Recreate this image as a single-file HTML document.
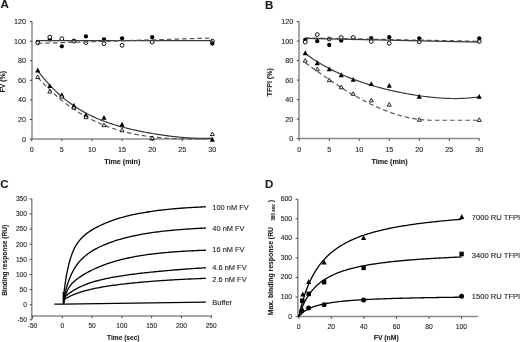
<!DOCTYPE html><html><head><meta charset="utf-8"><style>html,body{margin:0;padding:0;background:#fff;}svg{display:block;will-change:transform;}text{font-family:"Liberation Sans", sans-serif;fill:#1a1a1a;stroke:#1a1a1a;stroke-width:0.1px;}</style></head><body>
<svg width="520" height="342" viewBox="0 0 520 342">
<rect width="520" height="342" fill="#fff"/>
<text x="0.4" y="8.4" font-size="11.5" text-anchor="start" font-weight="bold" >A</text>
<line x1="32" y1="21.6" x2="32" y2="139" stroke="#8a8a8a" stroke-width="1.5" />
<line x1="29.8" y1="139" x2="32" y2="139" stroke="#333" stroke-width="0.9" />
<text x="26.1" y="141.5" font-size="7.2" text-anchor="end" font-weight="normal" >0</text>
<line x1="29.8" y1="119.44" x2="32" y2="119.44" stroke="#333" stroke-width="0.9" />
<text x="26.1" y="121.94" font-size="7.2" text-anchor="end" font-weight="normal" >20</text>
<line x1="29.8" y1="99.88" x2="32" y2="99.88" stroke="#333" stroke-width="0.9" />
<text x="26.1" y="102.38" font-size="7.2" text-anchor="end" font-weight="normal" >40</text>
<line x1="29.8" y1="80.32" x2="32" y2="80.32" stroke="#333" stroke-width="0.9" />
<text x="26.1" y="82.82" font-size="7.2" text-anchor="end" font-weight="normal" >60</text>
<line x1="29.8" y1="60.76" x2="32" y2="60.76" stroke="#333" stroke-width="0.9" />
<text x="26.1" y="63.26" font-size="7.2" text-anchor="end" font-weight="normal" >80</text>
<line x1="29.8" y1="41.2" x2="32" y2="41.2" stroke="#333" stroke-width="0.9" />
<text x="26.1" y="43.7" font-size="7.2" text-anchor="end" font-weight="normal" >100</text>
<line x1="29.8" y1="21.64" x2="32" y2="21.64" stroke="#333" stroke-width="0.9" />
<text x="26.1" y="24.14" font-size="7.2" text-anchor="end" font-weight="normal" >120</text>
<line x1="32" y1="139" x2="212.6" y2="139" stroke="#8a8a8a" stroke-width="1.5" />
<line x1="31.75" y1="139" x2="31.75" y2="141.2" stroke="#333" stroke-width="0.9" />
<text x="31.75" y="152.3" font-size="7.2" text-anchor="middle" font-weight="normal" >0</text>
<line x1="61.85" y1="139" x2="61.85" y2="141.2" stroke="#333" stroke-width="0.9" />
<text x="61.85" y="152.3" font-size="7.2" text-anchor="middle" font-weight="normal" >5</text>
<line x1="91.95" y1="139" x2="91.95" y2="141.2" stroke="#333" stroke-width="0.9" />
<text x="91.95" y="152.3" font-size="7.2" text-anchor="middle" font-weight="normal" >10</text>
<line x1="122.05" y1="139" x2="122.05" y2="141.2" stroke="#333" stroke-width="0.9" />
<text x="122.05" y="152.3" font-size="7.2" text-anchor="middle" font-weight="normal" >15</text>
<line x1="152.15" y1="139" x2="152.15" y2="141.2" stroke="#333" stroke-width="0.9" />
<text x="152.15" y="152.3" font-size="7.2" text-anchor="middle" font-weight="normal" >20</text>
<line x1="182.25" y1="139" x2="182.25" y2="141.2" stroke="#333" stroke-width="0.9" />
<text x="182.25" y="152.3" font-size="7.2" text-anchor="middle" font-weight="normal" >25</text>
<line x1="212.35" y1="139" x2="212.35" y2="141.2" stroke="#333" stroke-width="0.9" />
<text x="212.35" y="152.3" font-size="7.2" text-anchor="middle" font-weight="normal" >30</text>
<text x="122.3" y="164.2" font-size="7.2" text-anchor="middle" font-weight="bold" >Time (min)</text>
<text x="0" y="0" font-size="6.9" text-anchor="middle" font-weight="bold" transform="translate(5.3 81.75) rotate(-90)">FV (%)</text>
<path d="M37.77 77.45 L39.53 79.39 L41.3 81.28 L43.06 83.13 L44.82 84.94 L46.59 86.71 L48.35 88.44 L50.11 90.13 L51.88 91.78 L53.64 93.39 L55.4 94.96 L57.17 96.5 L58.93 98 L60.69 99.46 L62.46 100.88 L64.22 102.27 L65.98 103.62 L67.75 104.94 L69.51 106.22 L71.28 107.47 L73.04 108.69 L74.8 109.87 L76.57 111.03 L78.33 112.15 L80.09 113.24 L81.86 114.3 L83.62 115.33 L85.38 116.32 L87.15 117.29 L88.91 118.24 L90.67 119.15 L92.44 120.03 L94.2 120.89 L95.96 121.72 L97.73 122.53 L99.49 123.31 L101.25 124.06 L103.02 124.79 L104.78 125.5 L106.54 126.18 L108.31 126.83 L110.07 127.47 L111.83 128.08 L113.6 128.67 L115.36 129.24 L117.12 129.78 L118.89 130.31 L120.65 130.81 L122.41 131.3 L124.18 131.76 L125.94 132.21 L127.71 132.64 L129.47 133.05 L131.23 133.44 L133 133.81 L134.76 134.17 L136.52 134.51 L138.29 134.83 L140.05 135.14 L141.81 135.43 L143.58 135.71 L145.34 135.97 L147.1 136.22 L148.87 136.46 L150.63 136.68 L152.39 136.89 L154.16 137.08 L155.92 137.27 L157.68 137.44 L159.45 137.6 L161.21 137.74 L162.97 137.88 L164.74 138.01 L166.5 138.13 L168.26 138.23 L170.03 138.33 L171.79 138.42 L173.55 138.5 L175.32 138.57 L177.08 138.63 L178.84 138.68 L180.61 138.73 L182.37 138.77 L184.14 138.81 L185.9 138.83 L187.66 138.85 L189.43 138.87 L191.19 138.88 L192.95 138.88 L194.72 138.88 L196.48 138.88 L198.24 138.87 L200.01 138.85 L201.77 138.84 L203.53 138.82 L205.3 138.79 L207.06 138.76 L208.82 138.74 L210.59 138.7 L212.35 138.67" stroke="#555" stroke-width="1.2" fill="none" stroke-dasharray="4.6 3"/>
<path d="M37.77 70.81 L39.53 73.13 L41.3 75.37 L43.06 77.54 L44.82 79.65 L46.59 81.69 L48.35 83.66 L50.11 85.57 L51.88 87.41 L53.64 89.2 L55.4 90.92 L57.17 92.59 L58.93 94.21 L60.69 95.77 L62.46 97.28 L64.22 98.74 L65.98 100.15 L67.75 101.51 L69.51 102.82 L71.28 104.1 L73.04 105.32 L74.8 106.51 L76.57 107.66 L78.33 108.76 L80.09 109.83 L81.86 110.86 L83.62 111.86 L85.38 112.83 L87.15 113.76 L88.91 114.66 L90.67 115.52 L92.44 116.36 L94.2 117.17 L95.96 117.96 L97.73 118.71 L99.49 119.45 L101.25 120.15 L103.02 120.84 L104.78 121.5 L106.54 122.14 L108.31 122.76 L110.07 123.36 L111.83 123.94 L113.6 124.5 L115.36 125.05 L117.12 125.58 L118.89 126.09 L120.65 126.59 L122.41 127.07 L124.18 127.54 L125.94 127.99 L127.71 128.43 L129.47 128.86 L131.23 129.28 L133 129.69 L134.76 130.08 L136.52 130.46 L138.29 130.84 L140.05 131.2 L141.81 131.55 L143.58 131.9 L145.34 132.23 L147.1 132.56 L148.87 132.88 L150.63 133.19 L152.39 133.49 L154.16 133.78 L155.92 134.07 L157.68 134.35 L159.45 134.62 L161.21 134.88 L162.97 135.13 L164.74 135.38 L166.5 135.62 L168.26 135.85 L170.03 136.07 L171.79 136.29 L173.55 136.49 L175.32 136.69 L177.08 136.88 L178.84 137.06 L180.61 137.23 L182.37 137.39 L184.14 137.54 L185.9 137.68 L187.66 137.8 L189.43 137.92 L191.19 138.03 L192.95 138.12 L194.72 138.2 L196.48 138.27 L198.24 138.32 L200.01 138.36 L201.77 138.39 L203.53 138.4 L205.3 138.39 L207.06 138.37 L208.82 138.32 L210.59 138.26 L212.35 138.19" stroke="#3a3a3a" stroke-width="1.2" fill="none"/>
<circle cx="37.77" cy="41.9" r="2.15" fill="#000"/>
<circle cx="37.77" cy="42.8" r="1.92" fill="#fff" stroke="#000" stroke-width="0.95"/>
<circle cx="49.81" cy="39.4" r="2.15" fill="#000"/>
<circle cx="49.81" cy="37.2" r="1.92" fill="#fff" stroke="#000" stroke-width="0.95"/>
<circle cx="61.85" cy="46.3" r="2.15" fill="#000"/>
<circle cx="61.85" cy="38.7" r="1.92" fill="#fff" stroke="#000" stroke-width="0.95"/>
<circle cx="73.89" cy="41" r="2.15" fill="#000"/>
<circle cx="73.89" cy="41.1" r="1.92" fill="#fff" stroke="#000" stroke-width="0.95"/>
<circle cx="85.93" cy="36.4" r="2.15" fill="#000"/>
<circle cx="85.93" cy="42.6" r="1.92" fill="#fff" stroke="#000" stroke-width="0.95"/>
<circle cx="103.99" cy="39.5" r="2.15" fill="#000"/>
<circle cx="103.99" cy="43.7" r="1.92" fill="#fff" stroke="#000" stroke-width="0.95"/>
<circle cx="122.05" cy="38.3" r="2.15" fill="#000"/>
<circle cx="122.05" cy="45.3" r="1.92" fill="#fff" stroke="#000" stroke-width="0.95"/>
<circle cx="152.15" cy="42" r="1.92" fill="#fff" stroke="#000" stroke-width="0.95"/>
<circle cx="152.15" cy="37.2" r="2.15" fill="#000"/>
<circle cx="212.35" cy="41.2" r="1.92" fill="#fff" stroke="#000" stroke-width="0.95"/>
<circle cx="212.35" cy="43.5" r="2.15" fill="#000"/>
<path d="M37.77 67.55L40.32 72.45L35.22 72.45Z" fill="#000"/>
<path d="M37.77 75L39.77 78.56L35.76 78.56Z" fill="#fff" stroke="#000" stroke-width="0.85"/>
<path d="M49.81 83.15L52.36 88.05L47.26 88.05Z" fill="#000"/>
<path d="M49.81 89.5L51.82 93.06L47.8 93.06Z" fill="#fff" stroke="#000" stroke-width="0.85"/>
<path d="M61.85 92.15L64.4 97.05L59.3 97.05Z" fill="#000"/>
<path d="M61.85 94.5L63.85 98.06L59.84 98.06Z" fill="#fff" stroke="#000" stroke-width="0.85"/>
<path d="M73.89 102.75L76.44 107.65L71.34 107.65Z" fill="#000"/>
<path d="M73.89 105.5L75.89 109.06L71.89 109.06Z" fill="#fff" stroke="#000" stroke-width="0.85"/>
<path d="M85.93 112.15L88.48 117.05L83.38 117.05Z" fill="#000"/>
<path d="M85.93 115.09L87.93 118.66L83.92 118.66Z" fill="#fff" stroke="#000" stroke-width="0.85"/>
<path d="M103.99 114.95L106.54 119.85L101.44 119.85Z" fill="#000"/>
<path d="M103.99 123.09L105.99 126.66L101.98 126.66Z" fill="#fff" stroke="#000" stroke-width="0.85"/>
<path d="M122.05 121.75L124.6 126.65L119.5 126.65Z" fill="#000"/>
<path d="M122.05 128.2L124.05 131.75L120.05 131.75Z" fill="#fff" stroke="#000" stroke-width="0.85"/>
<path d="M152.15 135.45L154.7 140.35L149.6 140.35Z" fill="#000"/>
<path d="M152.15 136L154.15 139.55L150.14 139.55Z" fill="#fff" stroke="#000" stroke-width="0.85"/>
<path d="M212.35 136.85L214.9 141.75L209.8 141.75Z" fill="#000"/>
<path d="M212.35 132L214.35 135.55L210.34 135.55Z" fill="#fff" stroke="#000" stroke-width="0.85"/>
<path d="M37.77 40.6 L212.35 40.6" stroke="#3a3a3a" stroke-width="1.2" fill="none"/>
<path d="M37.77 43.4 L212.35 38" stroke="#555" stroke-width="1.2" fill="none" stroke-dasharray="4.6 3"/>
<text x="265.1" y="8.5" font-size="11.5" text-anchor="start" font-weight="bold" >B</text>
<line x1="299" y1="21.6" x2="299" y2="138.6" stroke="#8a8a8a" stroke-width="1.5" />
<line x1="296.8" y1="138.6" x2="299" y2="138.6" stroke="#333" stroke-width="0.9" />
<text x="293.2" y="141.1" font-size="7.2" text-anchor="end" font-weight="normal" >0</text>
<line x1="296.8" y1="119.1" x2="299" y2="119.1" stroke="#333" stroke-width="0.9" />
<text x="293.2" y="121.6" font-size="7.2" text-anchor="end" font-weight="normal" >20</text>
<line x1="296.8" y1="99.6" x2="299" y2="99.6" stroke="#333" stroke-width="0.9" />
<text x="293.2" y="102.1" font-size="7.2" text-anchor="end" font-weight="normal" >40</text>
<line x1="296.8" y1="80.1" x2="299" y2="80.1" stroke="#333" stroke-width="0.9" />
<text x="293.2" y="82.6" font-size="7.2" text-anchor="end" font-weight="normal" >60</text>
<line x1="296.8" y1="60.6" x2="299" y2="60.6" stroke="#333" stroke-width="0.9" />
<text x="293.2" y="63.1" font-size="7.2" text-anchor="end" font-weight="normal" >80</text>
<line x1="296.8" y1="41.1" x2="299" y2="41.1" stroke="#333" stroke-width="0.9" />
<text x="293.2" y="43.6" font-size="7.2" text-anchor="end" font-weight="normal" >100</text>
<line x1="296.8" y1="21.6" x2="299" y2="21.6" stroke="#333" stroke-width="0.9" />
<text x="293.2" y="24.1" font-size="7.2" text-anchor="end" font-weight="normal" >120</text>
<line x1="299" y1="138.6" x2="479.5" y2="138.6" stroke="#8a8a8a" stroke-width="1.5" />
<line x1="299.25" y1="138.6" x2="299.25" y2="140.8" stroke="#333" stroke-width="0.9" />
<text x="299.25" y="152.3" font-size="7.2" text-anchor="middle" font-weight="normal" >0</text>
<line x1="329.25" y1="138.6" x2="329.25" y2="140.8" stroke="#333" stroke-width="0.9" />
<text x="329.25" y="152.3" font-size="7.2" text-anchor="middle" font-weight="normal" >5</text>
<line x1="359.25" y1="138.6" x2="359.25" y2="140.8" stroke="#333" stroke-width="0.9" />
<text x="359.25" y="152.3" font-size="7.2" text-anchor="middle" font-weight="normal" >10</text>
<line x1="389.25" y1="138.6" x2="389.25" y2="140.8" stroke="#333" stroke-width="0.9" />
<text x="389.25" y="152.3" font-size="7.2" text-anchor="middle" font-weight="normal" >15</text>
<line x1="419.25" y1="138.6" x2="419.25" y2="140.8" stroke="#333" stroke-width="0.9" />
<text x="419.25" y="152.3" font-size="7.2" text-anchor="middle" font-weight="normal" >20</text>
<line x1="449.25" y1="138.6" x2="449.25" y2="140.8" stroke="#333" stroke-width="0.9" />
<text x="449.25" y="152.3" font-size="7.2" text-anchor="middle" font-weight="normal" >25</text>
<line x1="479.25" y1="138.6" x2="479.25" y2="140.8" stroke="#333" stroke-width="0.9" />
<text x="479.25" y="152.3" font-size="7.2" text-anchor="middle" font-weight="normal" >30</text>
<text x="389.5" y="164.2" font-size="7.2" text-anchor="middle" font-weight="bold" >Time (min)</text>
<text x="0" y="0" font-size="7.1" text-anchor="middle" font-weight="bold" transform="translate(272.4 82.2) rotate(-90)">TFPI (%)</text>
<path d="M305.25 62.66 L307.06 63.99 L308.87 65.32 L310.67 66.63 L312.48 67.94 L314.29 69.24 L316.1 70.54 L317.91 71.82 L319.71 73.1 L321.52 74.37 L323.33 75.63 L325.14 76.88 L326.95 78.12 L328.75 79.35 L330.56 80.57 L332.37 81.78 L334.18 82.97 L335.99 84.16 L337.79 85.33 L339.6 86.49 L341.41 87.64 L343.22 88.77 L345.03 89.89 L346.83 91 L348.64 92.09 L350.45 93.17 L352.26 94.23 L354.07 95.28 L355.87 96.31 L357.68 97.32 L359.49 98.32 L361.3 99.3 L363.11 100.26 L364.91 101.21 L366.72 102.13 L368.53 103.04 L370.34 103.93 L372.14 104.8 L373.95 105.65 L375.76 106.48 L377.57 107.29 L379.38 108.08 L381.18 108.85 L382.99 109.6 L384.8 110.32 L386.61 111.03 L388.42 111.71 L390.22 112.36 L392.03 113 L393.84 113.61 L395.65 114.19 L397.46 114.76 L399.26 115.29 L401.07 115.8 L402.88 116.29 L404.69 116.75 L406.5 117.18 L408.3 117.59 L410.11 117.97 L411.92 118.32 L413.73 118.65 L415.54 118.94 L417.34 119.21 L419.15 119.45 L420.96 119.66 L422.77 119.84 L424.58 119.99 L426.38 120.11 L428.19 120.2 L430 120.26 L479.25 120.26" stroke="#555" stroke-width="1.2" fill="none" stroke-dasharray="4.6 3"/>
<path d="M305.25 53.52 L307.01 54.8 L308.77 56.05 L310.52 57.28 L312.28 58.47 L314.04 59.63 L315.8 60.76 L317.55 61.86 L319.31 62.93 L321.07 63.98 L322.83 65 L324.58 66 L326.34 66.97 L328.1 67.92 L329.86 68.84 L331.61 69.74 L333.37 70.62 L335.13 71.48 L336.89 72.32 L338.64 73.13 L340.4 73.93 L342.16 74.71 L343.92 75.46 L345.67 76.2 L347.43 76.93 L349.19 77.63 L350.95 78.32 L352.7 79 L354.46 79.65 L356.22 80.3 L357.98 80.92 L359.73 81.54 L361.49 82.14 L363.25 82.72 L365.01 83.3 L366.77 83.86 L368.52 84.4 L370.28 84.94 L372.04 85.46 L373.8 85.97 L375.55 86.47 L377.31 86.96 L379.07 87.44 L380.83 87.91 L382.58 88.37 L384.34 88.81 L386.1 89.25 L387.86 89.68 L389.61 90.09 L391.37 90.5 L393.13 90.9 L394.89 91.29 L396.64 91.67 L398.4 92.04 L400.16 92.4 L401.92 92.75 L403.67 93.09 L405.43 93.42 L407.19 93.75 L408.95 94.06 L410.7 94.37 L412.46 94.66 L414.22 94.95 L415.98 95.23 L417.73 95.5 L419.49 95.75 L421.25 96 L423.01 96.24 L424.77 96.47 L426.52 96.68 L428.28 96.89 L430.04 97.09 L431.8 97.27 L433.55 97.44 L435.31 97.61 L437.07 97.76 L438.83 97.89 L440.58 98.02 L442.34 98.13 L444.1 98.23 L445.86 98.32 L447.61 98.39 L449.37 98.45 L451.13 98.49 L452.89 98.52 L454.64 98.53 L456.4 98.53 L458.16 98.51 L459.92 98.47 L461.67 98.42 L463.43 98.35 L465.19 98.26 L466.95 98.15 L468.7 98.02 L470.46 97.87 L472.22 97.7 L473.98 97.51 L475.73 97.3 L477.49 97.06 L479.25 96.8" stroke="#3a3a3a" stroke-width="1.2" fill="none"/>
<circle cx="305.25" cy="39.8" r="2.15" fill="#000"/>
<circle cx="305.25" cy="42.1" r="1.92" fill="#fff" stroke="#000" stroke-width="0.95"/>
<circle cx="317.25" cy="41.2" r="2.15" fill="#000"/>
<circle cx="317.25" cy="34.6" r="1.92" fill="#fff" stroke="#000" stroke-width="0.95"/>
<circle cx="329.25" cy="45" r="2.15" fill="#000"/>
<circle cx="329.25" cy="39" r="1.92" fill="#fff" stroke="#000" stroke-width="0.95"/>
<circle cx="341.25" cy="40.6" r="2.15" fill="#000"/>
<circle cx="341.25" cy="37.5" r="1.92" fill="#fff" stroke="#000" stroke-width="0.95"/>
<circle cx="353.25" cy="38" r="2.15" fill="#000"/>
<circle cx="353.25" cy="37.5" r="1.92" fill="#fff" stroke="#000" stroke-width="0.95"/>
<circle cx="371.25" cy="38.1" r="2.15" fill="#000"/>
<circle cx="371.25" cy="41.5" r="1.92" fill="#fff" stroke="#000" stroke-width="0.95"/>
<circle cx="389.25" cy="37.2" r="2.15" fill="#000"/>
<circle cx="389.25" cy="43.3" r="1.92" fill="#fff" stroke="#000" stroke-width="0.95"/>
<circle cx="419.25" cy="41.8" r="1.92" fill="#fff" stroke="#000" stroke-width="0.95"/>
<circle cx="419.25" cy="38.3" r="2.15" fill="#000"/>
<circle cx="479.25" cy="41.4" r="1.92" fill="#fff" stroke="#000" stroke-width="0.95"/>
<circle cx="479.25" cy="38.3" r="2.15" fill="#000"/>
<path d="M305.25 50.35L307.8 55.25L302.7 55.25Z" fill="#000"/>
<path d="M305.25 58.59L307.25 62.15L303.25 62.15Z" fill="#fff" stroke="#000" stroke-width="0.85"/>
<path d="M317.25 60.35L319.8 65.25L314.7 65.25Z" fill="#000"/>
<path d="M317.25 67.2L319.25 70.76L315.25 70.76Z" fill="#fff" stroke="#000" stroke-width="0.85"/>
<path d="M329.25 66.45L331.8 71.35L326.7 71.35Z" fill="#000"/>
<path d="M329.25 78.09L331.25 81.66L327.25 81.66Z" fill="#fff" stroke="#000" stroke-width="0.85"/>
<path d="M341.25 72.25L343.8 77.15L338.7 77.15Z" fill="#000"/>
<path d="M341.25 85.2L343.25 88.76L339.25 88.76Z" fill="#fff" stroke="#000" stroke-width="0.85"/>
<path d="M353.25 76.95L355.8 81.85L350.7 81.85Z" fill="#000"/>
<path d="M353.25 91.8L355.25 95.36L351.25 95.36Z" fill="#fff" stroke="#000" stroke-width="0.85"/>
<path d="M371.25 81.15L373.8 86.05L368.7 86.05Z" fill="#000"/>
<path d="M371.25 98.3L373.25 101.86L369.25 101.86Z" fill="#fff" stroke="#000" stroke-width="0.85"/>
<path d="M389.25 82.95L391.8 87.85L386.7 87.85Z" fill="#000"/>
<path d="M389.25 102.59L391.25 106.16L387.25 106.16Z" fill="#fff" stroke="#000" stroke-width="0.85"/>
<path d="M419.25 93.85L421.8 98.75L416.7 98.75Z" fill="#000"/>
<path d="M419.25 117.7L421.25 121.26L417.25 121.26Z" fill="#fff" stroke="#000" stroke-width="0.85"/>
<path d="M479.25 93.95L481.8 98.85L476.7 98.85Z" fill="#000"/>
<path d="M479.25 117.8L481.25 121.36L477.25 121.36Z" fill="#fff" stroke="#000" stroke-width="0.85"/>
<path d="M305.25 37.9 L479.25 41.3" stroke="#555" stroke-width="1.2" fill="none" stroke-dasharray="4.6 3"/>
<path d="M305.25 38.4 L479.25 42.2" stroke="#3a3a3a" stroke-width="1.2" fill="none"/>
<text x="0.35" y="187.7" font-size="11.5" text-anchor="start" font-weight="bold" >C</text>
<line x1="31.8" y1="198.9" x2="31.8" y2="320" stroke="#8a8a8a" stroke-width="1.5" />
<line x1="29.6" y1="319.88" x2="31.8" y2="319.88" stroke="#333" stroke-width="0.9" />
<text x="26.9" y="322.18" font-size="6.6" text-anchor="end" font-weight="normal" >-50</text>
<line x1="29.6" y1="304.75" x2="31.8" y2="304.75" stroke="#333" stroke-width="0.9" />
<text x="26.9" y="307.05" font-size="6.6" text-anchor="end" font-weight="normal" >0</text>
<line x1="29.6" y1="289.62" x2="31.8" y2="289.62" stroke="#333" stroke-width="0.9" />
<text x="26.9" y="291.93" font-size="6.6" text-anchor="end" font-weight="normal" >50</text>
<line x1="29.6" y1="274.5" x2="31.8" y2="274.5" stroke="#333" stroke-width="0.9" />
<text x="26.9" y="276.8" font-size="6.6" text-anchor="end" font-weight="normal" >100</text>
<line x1="29.6" y1="259.38" x2="31.8" y2="259.38" stroke="#333" stroke-width="0.9" />
<text x="26.9" y="261.68" font-size="6.6" text-anchor="end" font-weight="normal" >150</text>
<line x1="29.6" y1="244.25" x2="31.8" y2="244.25" stroke="#333" stroke-width="0.9" />
<text x="26.9" y="246.55" font-size="6.6" text-anchor="end" font-weight="normal" >200</text>
<line x1="29.6" y1="229.12" x2="31.8" y2="229.12" stroke="#333" stroke-width="0.9" />
<text x="26.9" y="231.43" font-size="6.6" text-anchor="end" font-weight="normal" >250</text>
<line x1="29.6" y1="214" x2="31.8" y2="214" stroke="#333" stroke-width="0.9" />
<text x="26.9" y="216.3" font-size="6.6" text-anchor="end" font-weight="normal" >300</text>
<line x1="29.6" y1="198.88" x2="31.8" y2="198.88" stroke="#333" stroke-width="0.9" />
<text x="26.9" y="201.18" font-size="6.6" text-anchor="end" font-weight="normal" >350</text>
<line x1="31.8" y1="316" x2="212" y2="316" stroke="#8a8a8a" stroke-width="1.5" />
<line x1="32.52" y1="316" x2="32.52" y2="318.2" stroke="#333" stroke-width="0.9" />
<text x="32.52" y="328.4" font-size="6.6" text-anchor="middle" font-weight="normal" >-50</text>
<line x1="62.3" y1="316" x2="62.3" y2="318.2" stroke="#333" stroke-width="0.9" />
<text x="62.3" y="328.4" font-size="6.6" text-anchor="middle" font-weight="normal" >0</text>
<line x1="92.08" y1="316" x2="92.08" y2="318.2" stroke="#333" stroke-width="0.9" />
<text x="92.08" y="328.4" font-size="6.6" text-anchor="middle" font-weight="normal" >50</text>
<line x1="121.86" y1="316" x2="121.86" y2="318.2" stroke="#333" stroke-width="0.9" />
<text x="121.86" y="328.4" font-size="6.6" text-anchor="middle" font-weight="normal" >100</text>
<line x1="151.64" y1="316" x2="151.64" y2="318.2" stroke="#333" stroke-width="0.9" />
<text x="151.64" y="328.4" font-size="6.6" text-anchor="middle" font-weight="normal" >150</text>
<line x1="181.42" y1="316" x2="181.42" y2="318.2" stroke="#333" stroke-width="0.9" />
<text x="181.42" y="328.4" font-size="6.6" text-anchor="middle" font-weight="normal" >200</text>
<line x1="211.2" y1="316" x2="211.2" y2="318.2" stroke="#333" stroke-width="0.9" />
<text x="211.2" y="328.4" font-size="6.6" text-anchor="middle" font-weight="normal" >250</text>
<text x="123.3" y="340.3" font-size="6.6" text-anchor="middle" font-weight="bold" >Time (sec)</text>
<text x="0" y="0" font-size="6.55" text-anchor="middle" font-weight="bold" transform="translate(7.3 260.4) rotate(-90)">Binding response (RU)</text>
<path d="M54.3 304.1 L63.3 304.1 L205.9 302.2" stroke="#000" stroke-width="1.3" fill="none"/>
<path d="M63.6 304 L63.6 292" stroke="#000" stroke-width="1.9" fill="none"/>
<path d="M63.5 296.53 L63.78 294.13 L64.06 291.83 L64.34 289.63 L64.62 287.51 L64.9 285.49 L65.18 283.55 L65.46 281.69 L65.74 279.9 L66.02 278.19 L66.3 276.55 L66.58 274.97 L66.86 273.46 L67.14 272 L67.42 270.61 L67.69 269.26 L67.97 267.97 L68.25 266.73 L68.53 265.54 L68.81 264.39 L69.09 263.29 L69.37 262.23 L69.65 261.2 L69.93 260.22 L70.21 259.27 L70.49 258.35 L70.77 257.47 L71.05 256.62 L71.33 255.8 L71.61 255 L71.89 254.24 L72.17 253.5 L72.45 252.78 L72.73 252.09 L73.01 251.42 L73.29 250.78 L73.57 250.15 L73.85 249.54 L74.13 248.96 L74.41 248.39 L74.69 247.84 L74.97 247.3 L75.25 246.78 L75.53 246.28 L75.81 245.79 L76.08 245.31 L76.36 244.85 L76.64 244.4 L76.92 243.96 L77.2 243.54 L77.48 243.12 L77.76 242.72 L78.04 242.32 L78.32 241.94 L78.6 241.56 L78.88 241.2 L79.16 240.84 L79.44 240.49 L79.72 240.15 L80 239.82 L80.5 239.24 L82.09 237.55 L83.67 236.03 L85.26 234.65 L86.85 233.39 L88.44 232.23 L90.02 231.14 L91.61 230.12 L93.2 229.16 L94.79 228.26 L96.37 227.39 L97.96 226.57 L99.55 225.78 L101.14 225.03 L102.72 224.31 L104.31 223.62 L105.9 222.95 L107.48 222.31 L109.07 221.69 L110.66 221.1 L112.25 220.53 L113.83 219.98 L115.42 219.44 L117.01 218.93 L118.6 218.44 L120.18 217.96 L121.77 217.5 L123.36 217.06 L124.95 216.63 L126.53 216.22 L128.12 215.82 L129.71 215.43 L131.29 215.06 L132.88 214.71 L134.47 214.36 L136.06 214.03 L137.64 213.71 L139.23 213.4 L140.82 213.1 L142.41 212.81 L143.99 212.53 L145.58 212.27 L147.17 212.01 L148.76 211.76 L150.34 211.52 L151.93 211.28 L153.52 211.06 L155.11 210.84 L156.69 210.63 L158.28 210.43 L159.87 210.24 L161.45 210.05 L163.04 209.87 L164.63 209.7 L166.22 209.53 L167.8 209.36 L169.39 209.21 L170.98 209.06 L172.57 208.91 L174.15 208.77 L175.74 208.63 L177.33 208.5 L178.92 208.38 L180.5 208.25 L182.09 208.14 L183.68 208.02 L185.26 207.91 L186.85 207.81 L188.44 207.71 L190.03 207.61 L191.61 207.51 L193.2 207.42 L194.79 207.33 L196.38 207.25 L197.96 207.17 L199.55 207.09 L201.14 207.01 L202.73 206.94 L204.31 206.86 L205.9 206.8" stroke="#000" stroke-width="1.3" fill="none"/>
<path d="M63.5 299.58 L63.78 298.3 L64.06 297.05 L64.34 295.85 L64.62 294.67 L64.9 293.53 L65.18 292.42 L65.46 291.34 L65.74 290.3 L66.02 289.28 L66.3 288.29 L66.58 287.33 L66.86 286.4 L67.14 285.49 L67.42 284.61 L67.69 283.75 L67.97 282.91 L68.25 282.09 L68.53 281.3 L68.81 280.53 L69.09 279.78 L69.37 279.05 L69.65 278.33 L69.93 277.64 L70.21 276.96 L70.49 276.3 L70.77 275.66 L71.05 275.03 L71.33 274.42 L71.61 273.82 L71.89 273.24 L72.17 272.67 L72.45 272.11 L72.73 271.57 L73.01 271.04 L73.29 270.52 L73.57 270.02 L73.85 269.52 L74.13 269.04 L74.41 268.57 L74.69 268.11 L74.97 267.65 L75.25 267.21 L75.53 266.78 L75.81 266.36 L76.08 265.94 L76.36 265.54 L76.64 265.14 L76.92 264.75 L77.2 264.37 L77.48 263.99 L77.76 263.63 L78.04 263.27 L78.32 262.91 L78.6 262.57 L78.88 262.23 L79.16 261.9 L79.44 261.57 L79.72 261.25 L80 260.93 L80.5 260.38 L82.09 258.74 L83.67 257.25 L85.26 255.88 L86.85 254.61 L88.44 253.44 L90.02 252.34 L91.61 251.31 L93.2 250.35 L94.79 249.43 L96.37 248.57 L97.96 247.75 L99.55 246.97 L101.14 246.22 L102.72 245.51 L104.31 244.82 L105.9 244.17 L107.48 243.54 L109.07 242.93 L110.66 242.35 L112.25 241.79 L113.83 241.25 L115.42 240.73 L117.01 240.23 L118.6 239.74 L120.18 239.28 L121.77 238.83 L123.36 238.39 L124.95 237.97 L126.53 237.57 L128.12 237.17 L129.71 236.8 L131.29 236.43 L132.88 236.08 L134.47 235.74 L136.06 235.41 L137.64 235.09 L139.23 234.78 L140.82 234.48 L142.41 234.19 L143.99 233.92 L145.58 233.65 L147.17 233.39 L148.76 233.14 L150.34 232.89 L151.93 232.66 L153.52 232.43 L155.11 232.21 L156.69 232 L158.28 231.8 L159.87 231.6 L161.45 231.41 L163.04 231.22 L164.63 231.04 L166.22 230.87 L167.8 230.7 L169.39 230.54 L170.98 230.39 L172.57 230.24 L174.15 230.09 L175.74 229.95 L177.33 229.81 L178.92 229.68 L180.5 229.56 L182.09 229.43 L183.68 229.31 L185.26 229.2 L186.85 229.09 L188.44 228.98 L190.03 228.88 L191.61 228.78 L193.2 228.68 L194.79 228.59 L196.38 228.5 L197.96 228.41 L199.55 228.32 L201.14 228.24 L202.73 228.16 L204.31 228.09 L205.9 228.01" stroke="#000" stroke-width="1.3" fill="none"/>
<path d="M63.5 302 L63.78 302 L64.06 301.93 L64.34 300.56 L64.62 299.29 L64.9 298.11 L65.18 297.02 L65.46 296 L65.74 295.05 L66.02 294.16 L66.3 293.33 L66.58 292.55 L66.86 291.83 L67.14 291.14 L67.42 290.5 L67.69 289.89 L67.97 289.32 L68.25 288.77 L68.53 288.26 L68.81 287.77 L69.09 287.31 L69.37 286.86 L69.65 286.44 L69.93 286.04 L70.21 285.65 L70.49 285.28 L70.77 284.92 L71.05 284.58 L71.33 284.25 L71.61 283.92 L71.89 283.61 L72.17 283.31 L72.45 283.02 L72.73 282.73 L73.01 282.46 L73.29 282.19 L73.57 281.92 L73.85 281.67 L74.13 281.42 L74.41 281.17 L74.69 280.93 L74.97 280.69 L75.25 280.46 L75.53 280.23 L75.81 280 L76.08 279.78 L76.36 279.56 L76.64 279.35 L76.92 279.13 L77.2 278.92 L77.48 278.72 L77.76 278.51 L78.04 278.31 L78.32 278.11 L78.6 277.91 L78.88 277.72 L79.16 277.52 L79.44 277.33 L79.72 277.14 L80 276.95 L80.5 276.62 L82.09 275.6 L83.67 274.62 L85.26 273.68 L86.85 272.78 L88.44 271.92 L90.02 271.08 L91.61 270.28 L93.2 269.5 L94.79 268.76 L96.37 268.04 L97.96 267.34 L99.55 266.67 L101.14 266.03 L102.72 265.41 L104.31 264.81 L105.9 264.23 L107.48 263.67 L109.07 263.13 L110.66 262.61 L112.25 262.11 L113.83 261.63 L115.42 261.17 L117.01 260.72 L118.6 260.28 L120.18 259.87 L121.77 259.47 L123.36 259.08 L124.95 258.7 L126.53 258.34 L128.12 258 L129.71 257.66 L131.29 257.34 L132.88 257.03 L134.47 256.73 L136.06 256.44 L137.64 256.16 L139.23 255.89 L140.82 255.63 L142.41 255.38 L143.99 255.13 L145.58 254.9 L147.17 254.68 L148.76 254.46 L150.34 254.25 L151.93 254.05 L153.52 253.86 L155.11 253.67 L156.69 253.49 L158.28 253.31 L159.87 253.15 L161.45 252.98 L163.04 252.83 L164.63 252.68 L166.22 252.53 L167.8 252.39 L169.39 252.26 L170.98 252.13 L172.57 252 L174.15 251.88 L175.74 251.77 L177.33 251.65 L178.92 251.54 L180.5 251.44 L182.09 251.34 L183.68 251.24 L185.26 251.15 L186.85 251.06 L188.44 250.97 L190.03 250.89 L191.61 250.81 L193.2 250.73 L194.79 250.65 L196.38 250.58 L197.96 250.51 L199.55 250.44 L201.14 250.38 L202.73 250.31 L204.31 250.25 L205.9 250.19" stroke="#000" stroke-width="1.3" fill="none"/>
<path d="M63.5 298.11 L63.78 297.85 L64.06 297.59 L64.34 297.34 L64.62 297.08 L64.9 296.83 L65.18 296.59 L65.46 296.34 L65.74 296.1 L66.02 295.86 L66.3 295.63 L66.58 295.4 L66.86 295.17 L67.14 294.94 L67.42 294.72 L67.69 294.5 L67.97 294.28 L68.25 294.06 L68.53 293.85 L68.81 293.64 L69.09 293.43 L69.37 293.22 L69.65 293.02 L69.93 292.82 L70.21 292.62 L70.49 292.43 L70.77 292.23 L71.05 292.04 L71.33 291.85 L71.61 291.66 L71.89 291.48 L72.17 291.3 L72.45 291.12 L72.73 290.94 L73.01 290.76 L73.29 290.59 L73.57 290.41 L73.85 290.24 L74.13 290.07 L74.41 289.91 L74.69 289.74 L74.97 289.58 L75.25 289.42 L75.53 289.26 L75.81 289.1 L76.08 288.95 L76.36 288.79 L76.64 288.64 L76.92 288.49 L77.2 288.34 L77.48 288.19 L77.76 288.05 L78.04 287.9 L78.32 287.76 L78.6 287.62 L78.88 287.48 L79.16 287.34 L79.44 287.2 L79.72 287.07 L80 286.93 L80.5 286.7 L82.09 285.98 L83.67 285.3 L85.26 284.65 L86.85 284.05 L88.44 283.47 L90.02 282.93 L91.61 282.41 L93.2 281.92 L94.79 281.45 L96.37 281 L97.96 280.57 L99.55 280.16 L101.14 279.77 L102.72 279.39 L104.31 279.03 L105.9 278.69 L107.48 278.35 L109.07 278.03 L110.66 277.72 L112.25 277.42 L113.83 277.14 L115.42 276.85 L117.01 276.58 L118.6 276.32 L120.18 276.06 L121.77 275.82 L123.36 275.57 L124.95 275.34 L126.53 275.11 L128.12 274.89 L129.71 274.67 L131.29 274.45 L132.88 274.25 L134.47 274.04 L136.06 273.84 L137.64 273.65 L139.23 273.46 L140.82 273.27 L142.41 273.09 L143.99 272.91 L145.58 272.73 L147.17 272.56 L148.76 272.39 L150.34 272.22 L151.93 272.06 L153.52 271.89 L155.11 271.73 L156.69 271.58 L158.28 271.42 L159.87 271.27 L161.45 271.12 L163.04 270.98 L164.63 270.83 L166.22 270.69 L167.8 270.55 L169.39 270.41 L170.98 270.28 L172.57 270.14 L174.15 270.01 L175.74 269.88 L177.33 269.75 L178.92 269.63 L180.5 269.5 L182.09 269.38 L183.68 269.26 L185.26 269.14 L186.85 269.02 L188.44 268.91 L190.03 268.79 L191.61 268.68 L193.2 268.57 L194.79 268.46 L196.38 268.35 L197.96 268.24 L199.55 268.13 L201.14 268.03 L202.73 267.93 L204.31 267.83 L205.9 267.73" stroke="#000" stroke-width="1.3" fill="none"/>
<path d="M63.5 299.92 L63.78 299.74 L64.06 299.56 L64.34 299.38 L64.62 299.21 L64.9 299.04 L65.18 298.87 L65.46 298.7 L65.74 298.53 L66.02 298.37 L66.3 298.21 L66.58 298.05 L66.86 297.89 L67.14 297.74 L67.42 297.59 L67.69 297.44 L67.97 297.29 L68.25 297.14 L68.53 296.99 L68.81 296.85 L69.09 296.71 L69.37 296.57 L69.65 296.43 L69.93 296.3 L70.21 296.16 L70.49 296.03 L70.77 295.9 L71.05 295.77 L71.33 295.64 L71.61 295.51 L71.89 295.39 L72.17 295.26 L72.45 295.14 L72.73 295.02 L73.01 294.9 L73.29 294.78 L73.57 294.66 L73.85 294.55 L74.13 294.43 L74.41 294.32 L74.69 294.21 L74.97 294.1 L75.25 293.99 L75.53 293.88 L75.81 293.78 L76.08 293.67 L76.36 293.57 L76.64 293.46 L76.92 293.36 L77.2 293.26 L77.48 293.16 L77.76 293.06 L78.04 292.96 L78.32 292.86 L78.6 292.77 L78.88 292.67 L79.16 292.58 L79.44 292.49 L79.72 292.39 L80 292.3 L80.5 292.14 L82.09 291.65 L83.67 291.18 L85.26 290.74 L86.85 290.32 L88.44 289.91 L90.02 289.53 L91.61 289.16 L93.2 288.81 L94.79 288.48 L96.37 288.15 L97.96 287.84 L99.55 287.54 L101.14 287.25 L102.72 286.98 L104.31 286.71 L105.9 286.45 L107.48 286.19 L109.07 285.95 L110.66 285.71 L112.25 285.48 L113.83 285.26 L115.42 285.04 L117.01 284.83 L118.6 284.63 L120.18 284.43 L121.77 284.23 L123.36 284.04 L124.95 283.86 L126.53 283.68 L128.12 283.5 L129.71 283.33 L131.29 283.16 L132.88 283 L134.47 282.84 L136.06 282.68 L137.64 282.53 L139.23 282.38 L140.82 282.23 L142.41 282.09 L143.99 281.95 L145.58 281.82 L147.17 281.68 L148.76 281.55 L150.34 281.43 L151.93 281.3 L153.52 281.18 L155.11 281.06 L156.69 280.94 L158.28 280.83 L159.87 280.72 L161.45 280.61 L163.04 280.5 L164.63 280.4 L166.22 280.29 L167.8 280.19 L169.39 280.1 L170.98 280 L172.57 279.9 L174.15 279.81 L175.74 279.72 L177.33 279.63 L178.92 279.55 L180.5 279.46 L182.09 279.38 L183.68 279.3 L185.26 279.22 L186.85 279.14 L188.44 279.07 L190.03 278.99 L191.61 278.92 L193.2 278.85 L194.79 278.78 L196.38 278.71 L197.96 278.64 L199.55 278.58 L201.14 278.51 L202.73 278.45 L204.31 278.39 L205.9 278.33" stroke="#000" stroke-width="1.3" fill="none"/>
<text x="212.3" y="209.6" font-size="7.45" text-anchor="start" font-weight="normal" >100 nM FV</text>
<text x="212.3" y="230.6" font-size="7.45" text-anchor="start" font-weight="normal" >40 nM FV</text>
<text x="212.3" y="252.4" font-size="7.45" text-anchor="start" font-weight="normal" >16 nM FV</text>
<text x="212.3" y="270.1" font-size="7.45" text-anchor="start" font-weight="normal" >4.6 nM FV</text>
<text x="212.3" y="282.3" font-size="7.45" text-anchor="start" font-weight="normal" >2.6 nM FV</text>
<text x="212.3" y="304.9" font-size="7.45" text-anchor="start" font-weight="normal" >Buffer</text>
<text x="264.9" y="187.7" font-size="11.5" text-anchor="start" font-weight="bold" >D</text>
<line x1="297.8" y1="199.2" x2="297.8" y2="316.6" stroke="#8a8a8a" stroke-width="1.5" />
<line x1="295.6" y1="316.6" x2="297.8" y2="316.6" stroke="#333" stroke-width="0.9" />
<text x="292" y="318.6" font-size="6.75" text-anchor="end" font-weight="normal" >0</text>
<line x1="295.6" y1="297.04" x2="297.8" y2="297.04" stroke="#333" stroke-width="0.9" />
<text x="292" y="299.04" font-size="6.75" text-anchor="end" font-weight="normal" >100</text>
<line x1="295.6" y1="277.48" x2="297.8" y2="277.48" stroke="#333" stroke-width="0.9" />
<text x="292" y="279.48" font-size="6.75" text-anchor="end" font-weight="normal" >200</text>
<line x1="295.6" y1="257.92" x2="297.8" y2="257.92" stroke="#333" stroke-width="0.9" />
<text x="292" y="259.92" font-size="6.75" text-anchor="end" font-weight="normal" >300</text>
<line x1="295.6" y1="238.36" x2="297.8" y2="238.36" stroke="#333" stroke-width="0.9" />
<text x="292" y="240.36" font-size="6.75" text-anchor="end" font-weight="normal" >400</text>
<line x1="295.6" y1="218.8" x2="297.8" y2="218.8" stroke="#333" stroke-width="0.9" />
<text x="292" y="220.8" font-size="6.75" text-anchor="end" font-weight="normal" >500</text>
<line x1="295.6" y1="199.24" x2="297.8" y2="199.24" stroke="#333" stroke-width="0.9" />
<text x="292" y="201.24" font-size="6.75" text-anchor="end" font-weight="normal" >600</text>
<line x1="297.8" y1="316.6" x2="477.8" y2="316.6" stroke="#8a8a8a" stroke-width="1.5" />
<line x1="298.75" y1="316.6" x2="298.75" y2="318.8" stroke="#333" stroke-width="0.9" />
<text x="298.75" y="328.6" font-size="6.75" text-anchor="middle" font-weight="normal" >0</text>
<line x1="331.3" y1="316.6" x2="331.3" y2="318.8" stroke="#333" stroke-width="0.9" />
<text x="331.3" y="328.6" font-size="6.75" text-anchor="middle" font-weight="normal" >20</text>
<line x1="363.85" y1="316.6" x2="363.85" y2="318.8" stroke="#333" stroke-width="0.9" />
<text x="363.85" y="328.6" font-size="6.75" text-anchor="middle" font-weight="normal" >40</text>
<line x1="396.4" y1="316.6" x2="396.4" y2="318.8" stroke="#333" stroke-width="0.9" />
<text x="396.4" y="328.6" font-size="6.75" text-anchor="middle" font-weight="normal" >60</text>
<line x1="428.95" y1="316.6" x2="428.95" y2="318.8" stroke="#333" stroke-width="0.9" />
<text x="428.95" y="328.6" font-size="6.75" text-anchor="middle" font-weight="normal" >80</text>
<line x1="461.5" y1="316.6" x2="461.5" y2="318.8" stroke="#333" stroke-width="0.9" />
<text x="461.5" y="328.6" font-size="6.75" text-anchor="middle" font-weight="normal" >100</text>
<text x="386.2" y="340.3" font-size="6.8" text-anchor="middle" font-weight="bold" >FV (nM)</text>
<text font-size="6.85" font-weight="bold" transform="translate(272.9 315.2) rotate(-90)">Max. binding response (RU</text>
<text font-size="4.5" font-weight="bold" transform="translate(274.8 220.6) rotate(-90)">380 sec</text>
<text font-size="6.85" font-weight="bold" transform="translate(272.6 202.2) rotate(-90)">)</text>
<path d="M302.8 291.55L305.35 296.45L300.25 296.45Z" fill="#000"/>
<path d="M308.7 279.05L311.25 283.95L306.15 283.95Z" fill="#000"/>
<path d="M324.1 259.55L326.65 264.45L321.55 264.45Z" fill="#000"/>
<path d="M363.6 235.15L366.15 240.05L361.05 240.05Z" fill="#000"/>
<path d="M461.8 214.05L464.35 218.95L459.25 218.95Z" fill="#000"/>
<path d="M298.75 316.6 L300.12 310.65 L301.49 305.31 L302.85 300.47 L304.22 296.08 L305.59 292.08 L306.96 288.41 L308.32 285.04 L309.69 281.93 L311.06 279.05 L312.43 276.37 L313.79 273.89 L315.16 271.57 L316.53 269.4 L317.9 267.37 L319.26 265.46 L320.63 263.66 L322 261.97 L323.37 260.37 L324.74 258.86 L326.1 257.42 L327.47 256.07 L328.84 254.78 L330.21 253.55 L331.57 252.38 L332.94 251.27 L334.31 250.21 L335.68 249.19 L337.04 248.22 L338.41 247.29 L339.78 246.4 L341.15 245.55 L342.51 244.73 L343.88 243.94 L345.25 243.18 L346.62 242.46 L347.99 241.75 L349.35 241.08 L350.72 240.43 L352.09 239.8 L353.46 239.19 L354.82 238.61 L356.19 238.04 L357.56 237.49 L358.93 236.96 L360.29 236.45 L361.66 235.95 L363.03 235.47 L364.4 235 L365.76 234.55 L367.13 234.11 L368.5 233.68 L369.87 233.27 L371.24 232.86 L372.6 232.47 L373.97 232.09 L375.34 231.72 L376.71 231.36 L378.07 231.01 L379.44 230.66 L380.81 230.33 L382.18 230.01 L383.54 229.69 L384.91 229.38 L386.28 229.08 L387.65 228.78 L389.01 228.5 L390.38 228.22 L391.75 227.94 L393.12 227.68 L394.49 227.41 L395.85 227.16 L397.22 226.91 L398.59 226.66 L399.96 226.42 L401.32 226.19 L402.69 225.96 L404.06 225.74 L405.43 225.52 L406.79 225.3 L408.16 225.09 L409.53 224.89 L410.9 224.69 L412.26 224.49 L413.63 224.29 L415 224.1 L416.37 223.92 L417.74 223.73 L419.1 223.55 L420.47 223.38 L421.84 223.2 L423.21 223.03 L424.57 222.87 L425.94 222.7 L427.31 222.54 L428.68 222.38 L430.04 222.23 L431.41 222.08 L432.78 221.93 L434.15 221.78 L435.51 221.63 L436.88 221.49 L438.25 221.35 L439.62 221.21 L440.99 221.08 L442.35 220.95 L443.72 220.81 L445.09 220.69 L446.46 220.56 L447.82 220.43 L449.19 220.31 L450.56 220.19 L451.93 220.07 L453.29 219.95 L454.66 219.84 L456.03 219.72 L457.4 219.61 L458.76 219.5 L460.13 219.39 L461.5 219.28" stroke="#000" stroke-width="1.3" fill="none"/>
<rect x="300.1" y="298.4" width="4.4" height="4.6" fill="#000"/>
<rect x="306.5" y="291.6" width="4.4" height="4.6" fill="#000"/>
<rect x="321.9" y="279.8" width="4.4" height="4.6" fill="#000"/>
<rect x="361.4" y="265.5" width="4.4" height="4.6" fill="#000"/>
<rect x="459.4" y="251.7" width="4.4" height="4.6" fill="#000"/>
<path d="M298.75 316.6 L300.12 312.51 L301.49 308.89 L302.85 305.66 L304.22 302.76 L305.59 300.14 L306.96 297.77 L308.32 295.61 L309.69 293.63 L311.06 291.82 L312.43 290.14 L313.79 288.6 L315.16 287.16 L316.53 285.83 L317.9 284.59 L319.26 283.43 L320.63 282.34 L322 281.32 L323.37 280.36 L324.74 279.46 L326.1 278.6 L327.47 277.8 L328.84 277.04 L330.21 276.31 L331.57 275.63 L332.94 274.97 L334.31 274.35 L335.68 273.76 L337.04 273.2 L338.41 272.66 L339.78 272.14 L341.15 271.65 L342.51 271.18 L343.88 270.72 L345.25 270.29 L346.62 269.87 L347.99 269.47 L349.35 269.08 L350.72 268.71 L352.09 268.35 L353.46 268.01 L354.82 267.68 L356.19 267.35 L357.56 267.04 L358.93 266.74 L360.29 266.45 L361.66 266.17 L363.03 265.9 L364.4 265.64 L365.76 265.39 L367.13 265.14 L368.5 264.9 L369.87 264.67 L371.24 264.44 L372.6 264.22 L373.97 264.01 L375.34 263.8 L376.71 263.6 L378.07 263.4 L379.44 263.21 L380.81 263.03 L382.18 262.85 L383.54 262.67 L384.91 262.5 L386.28 262.33 L387.65 262.17 L389.01 262.01 L390.38 261.86 L391.75 261.7 L393.12 261.56 L394.49 261.41 L395.85 261.27 L397.22 261.13 L398.59 261 L399.96 260.87 L401.32 260.74 L402.69 260.61 L404.06 260.49 L405.43 260.37 L406.79 260.25 L408.16 260.13 L409.53 260.02 L410.9 259.91 L412.26 259.8 L413.63 259.7 L415 259.59 L416.37 259.49 L417.74 259.39 L419.1 259.29 L420.47 259.19 L421.84 259.1 L423.21 259.01 L424.57 258.92 L425.94 258.83 L427.31 258.74 L428.68 258.65 L430.04 258.57 L431.41 258.48 L432.78 258.4 L434.15 258.32 L435.51 258.24 L436.88 258.17 L438.25 258.09 L439.62 258.01 L440.99 257.94 L442.35 257.87 L443.72 257.8 L445.09 257.73 L446.46 257.66 L447.82 257.59 L449.19 257.52 L450.56 257.46 L451.93 257.39 L453.29 257.33 L454.66 257.27 L456.03 257.21 L457.4 257.14 L458.76 257.09 L460.13 257.03 L461.5 256.97" stroke="#000" stroke-width="1.3" fill="none"/>
<circle cx="301.8" cy="310.5" r="2.5" fill="#000"/>
<circle cx="308.6" cy="308.1" r="2.5" fill="#000"/>
<circle cx="324.1" cy="304.8" r="2.5" fill="#000"/>
<circle cx="363.6" cy="300" r="2.5" fill="#000"/>
<circle cx="461.5" cy="296.3" r="2.5" fill="#000"/>
<path d="M298.75 316.6 L300.12 315.05 L301.49 313.7 L302.85 312.53 L304.22 311.49 L305.59 310.57 L306.96 309.75 L308.32 309.01 L309.69 308.35 L311.06 307.74 L312.43 307.18 L313.79 306.68 L315.16 306.21 L316.53 305.78 L317.9 305.38 L319.26 305.01 L320.63 304.67 L322 304.35 L323.37 304.05 L324.74 303.77 L326.1 303.5 L327.47 303.25 L328.84 303.02 L330.21 302.8 L331.57 302.59 L332.94 302.39 L334.31 302.2 L335.68 302.02 L337.04 301.85 L338.41 301.69 L339.78 301.54 L341.15 301.39 L342.51 301.25 L343.88 301.11 L345.25 300.99 L346.62 300.86 L347.99 300.74 L349.35 300.63 L350.72 300.52 L352.09 300.42 L353.46 300.32 L354.82 300.22 L356.19 300.13 L357.56 300.04 L358.93 299.95 L360.29 299.86 L361.66 299.78 L363.03 299.7 L364.4 299.63 L365.76 299.55 L367.13 299.48 L368.5 299.41 L369.87 299.35 L371.24 299.28 L372.6 299.22 L373.97 299.16 L375.34 299.1 L376.71 299.04 L378.07 298.99 L379.44 298.93 L380.81 298.88 L382.18 298.83 L383.54 298.78 L384.91 298.73 L386.28 298.68 L387.65 298.64 L389.01 298.59 L390.38 298.55 L391.75 298.5 L393.12 298.46 L394.49 298.42 L395.85 298.38 L397.22 298.34 L398.59 298.3 L399.96 298.27 L401.32 298.23 L402.69 298.2 L404.06 298.16 L405.43 298.13 L406.79 298.09 L408.16 298.06 L409.53 298.03 L410.9 298 L412.26 297.97 L413.63 297.94 L415 297.91 L416.37 297.88 L417.74 297.85 L419.1 297.83 L420.47 297.8 L421.84 297.77 L423.21 297.75 L424.57 297.72 L425.94 297.7 L427.31 297.67 L428.68 297.65 L430.04 297.62 L431.41 297.6 L432.78 297.58 L434.15 297.56 L435.51 297.53 L436.88 297.51 L438.25 297.49 L439.62 297.47 L440.99 297.45 L442.35 297.43 L443.72 297.41 L445.09 297.39 L446.46 297.37 L447.82 297.35 L449.19 297.33 L450.56 297.32 L451.93 297.3 L453.29 297.28 L454.66 297.26 L456.03 297.25 L457.4 297.23 L458.76 297.21 L460.13 297.2 L461.5 297.18" stroke="#000" stroke-width="1.3" fill="none"/>
<text x="471.8" y="220.2" font-size="7.6" text-anchor="start" font-weight="normal" >7000 RU TFPI</text>
<text x="471.8" y="258.4" font-size="7.6" text-anchor="start" font-weight="normal" >3400 RU TFPI</text>
<text x="471.8" y="299.2" font-size="7.6" text-anchor="start" font-weight="normal" >1500 RU TFPI</text>
</svg></body></html>
